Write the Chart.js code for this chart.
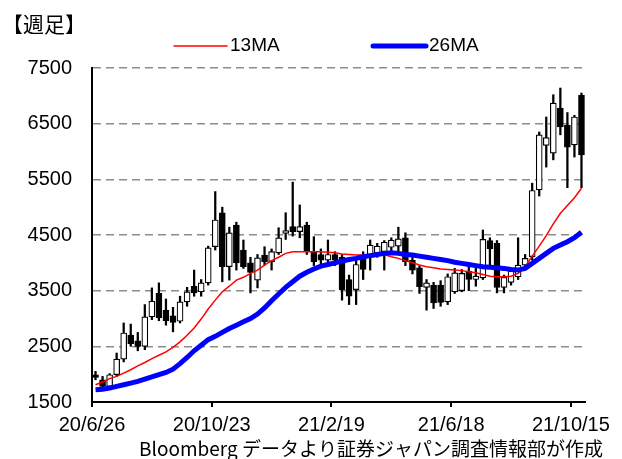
<!DOCTYPE html>
<html>
<head>
<meta charset="utf-8">
<script src="https://cdn.jsdelivr.net/npm/chart.js@4/dist/chart.umd.min.js"></script>
<style>
  body { margin: 0; background: #fff; }
  #wrap { width: 622px; height: 459px; }
</style>
</head>
<body>
<div id="wrap"><canvas id="weeklyChart" width="622" height="459"></canvas></div>
<script>
//************************************   DATA    ****************************************** */
// weekly candles, 20/6/26 .. 21/10/22
const opens  = [1990,1900,1780,1990,2270,2700,2600,2500,3030,3450,
                3150,3050,2950,3300,3580,3480,3640,4290,4900,3930,
                4680,4230,4000,3690,4140,4020,4180,4530,4650,4560,
                4680,4200,4150,4050,4150,4100,3700,3520,4090,4100,
                4180,4200,4280,4300,4450,4050,3910,3560,3600,3600,
                3300,3480,3500,3850,3700,3730,4400,4350,3560,3650,
                3750,3960,4110,5310,6110,5970,6780,6470,6120,7010];
const highs  = [2050,1960,2010,2380,2920,2900,2750,3250,3550,3640,
                3350,3200,3400,3560,3870,3700,4300,5280,5000,4640,
                4730,4410,4100,4150,4290,4250,4630,4900,5450,5040,
                4730,4470,4250,4410,4200,4150,3780,4050,4200,4410,
                4350,4400,4450,4640,4540,4150,3950,3700,3650,3680,
                3800,3900,3880,3950,3900,4590,4450,4400,3780,3900,
                4450,4150,5430,6350,6620,7020,7140,6700,6650,7050];
const lows   = [1900,1740,1760,1960,2220,2500,2420,2440,2980,2960,
                2880,2760,2920,3220,3400,3400,3600,4230,3660,3690,
                3870,3900,3460,3550,3960,3870,4150,4420,4480,4450,
                4150,3950,3950,4000,3950,3330,3250,3250,3700,3870,
                4100,3870,4180,4200,3950,3800,3450,3150,3180,3220,
                3250,3450,3480,3500,3580,3700,3950,3460,3460,3600,
                3700,3920,4050,5200,5720,5850,6300,5350,5900,5350];
const closes = [1940,1780,1990,2270,2740,2550,2500,3030,3310,3010,
                2960,2930,3300,3480,3460,3640,4270,4770,3930,4540,
                4000,3930,3830,4090,4020,4200,4450,4580,4560,4650,
                4200,4020,4050,4150,4050,3520,3400,3970,3880,4320,
                4300,4370,4410,4430,4020,3870,3570,3640,3280,3290,
                3750,3820,3810,3700,3760,4420,4250,3560,3740,3850,
                3960,4080,5300,6300,6250,6870,6440,6080,6620,5940];
const ma13   = [1810,1860,1920,1960,2020,2080,2150,2210,2280,2340,
                2400,2480,2580,2700,2830,2990,3170,3330,3480,3580,
                3690,3740,3810,3870,3960,4040,4100,4170,4200,4200,
                4200,4200,4200,4190,4180,4160,4150,4140,4140,4150,
                4160,4150,4110,4080,4040,4000,3960,3930,3910,3890,
                3880,3870,3860,3840,3820,3790,3760,3750,3750,3760,
                3810,3930,4120,4300,4490,4700,4890,5030,5170,5340];
const ma26   = [1720,1730,1750,1780,1810,1840,1870,1910,1950,1990,
                2030,2090,2190,2300,2420,2520,2620,2680,2750,2820,
                2880,2940,3000,3080,3190,3320,3440,3560,3660,3760,
                3830,3890,3940,3970,4000,4030,4060,4080,4110,4130,
                4150,4170,4180,4170,4150,4140,4120,4100,4080,4060,
                4040,4010,3990,3970,3950,3930,3920,3910,3900,3880,
                3870,3900,3990,4080,4170,4260,4320,4380,4450,4550];
const tickWeeks  = [0, 17, 34, 51, 68];
const tickLabels = ['20/6/26', '20/10/23', '21/2/19', '21/6/18', '21/10/15'];
const yTicks     = [1500, 2500, 3500, 4500, 5500, 6500, 7500];

const titleText  = '【週足】';
const sourceText = 'Bloomberg データより証券ジャパン調査情報部が作成';

//************************************   CHART    ****************************************** */
const week = i => i + 0.5;
const bodyData = opens.map((o, i) => ({x: week(i), y: [o, closes[i]]}));
const wickData = lows.map((l, i) => ({x: week(i), y: [l, highs[i]]}));
const ma13Data = ma13.map((v, i) => ({x: week(i), y: v}));
const ma26Data = ma26.map((v, i) => ({x: week(i), y: v}));

const numFont = {family: '"Liberation Sans", Arial, sans-serif', size: 20};

// title, legend and source line drawn straight on the canvas
const textPlugin = {
  id: 'chartTexts',
  afterDraw(chart) {
    const ctx = chart.ctx;
    const ds = chart.data.datasets;
    ctx.save();
    ctx.fillStyle = '#000';
    ctx.textBaseline = 'middle';
    ctx.font = '21px "Noto Sans CJK JP", sans-serif';
    ctx.fillText(titleText, 2, 24);

    const items = [{ds: ds[1], x: 174}, {ds: ds[0], x: 373}];
    items.forEach(it => {
      ctx.strokeStyle = it.ds.borderColor;
      ctx.lineWidth = it.ds.borderWidth;
      ctx.lineCap = 'round';
      ctx.beginPath();
      ctx.moveTo(it.x, 46);
      ctx.lineTo(it.x + 53, 46);
      ctx.stroke();
      ctx.font = '19px "Liberation Sans", Arial, sans-serif';
      ctx.fillText(it.ds.label, it.x + 56, 46);
    });

    ctx.font = '19px "Noto Sans CJK JP", sans-serif';
    ctx.textAlign = 'right';
    ctx.fillText(sourceText, 603, 449);
    ctx.restore();
  }
};

const chart = new Chart(document.getElementById('weeklyChart').getContext('2d'), {
  type: 'bar',
  data: {
    datasets: [
      {
        type: 'line',
        label: '26MA',
        data: ma26Data,
        borderColor: 'rgb(0, 0, 255)',
        borderWidth: 5,
        pointRadius: 0,
        order: 0
      },
      {
        type: 'line',
        label: '13MA',
        data: ma13Data,
        borderColor: 'rgb(255, 0, 0)',
        borderWidth: 1.5,
        pointRadius: 0,
        order: 1
      },
      {
        label: 'body',
        data: bodyData,
        grouped: false,
        barThickness: 6,
        borderWidth: 1.2,
        borderSkipped: false,
        borderColor: '#000',
        backgroundColor: c => (closes[c.dataIndex] >= opens[c.dataIndex] ? '#fff' : '#000'),
        order: 2
      },
      {
        label: 'wick',
        data: wickData,
        grouped: false,
        barThickness: 1.6,
        borderWidth: 0,
        backgroundColor: '#000',
        order: 3
      }
    ]
  },
  options: {
    responsive: false,
    animation: false,
    layout: {padding: {left: 0, right: 37, top: 68, bottom: 0}},
    plugins: {
      legend: {display: false},
      tooltip: {enabled: false}
    },
    scales: {
      x: {
        type: 'linear',
        offset: false,
        min: 0,
        max: 70,
        afterBuildTicks: scale => { scale.ticks = tickWeeks.map(v => ({value: v})); },
        afterFit: scale => { scale.height = 57; },
        ticks: {
          autoSkip: false,
          maxRotation: 0,
          padding: 6,
          color: '#000',
          font: numFont,
          callback: v => tickLabels[tickWeeks.indexOf(v)]
        },
        grid: {offset: false, drawOnChartArea: false, drawTicks: true, tickLength: 5, color: '#000', lineWidth: 2},
        border: {display: true, color: '#000', width: 2}
      },
      y: {
        min: 1500,
        max: 7500,
        afterBuildTicks: scale => { scale.ticks = yTicks.map(v => ({value: v})); },
        afterFit: scale => { scale.width = 92; },
        ticks: {padding: 20, color: '#000', font: numFont, callback: v => String(v)},
        grid: {
          drawTicks: false,
          color: c => (c.tick && c.tick.value === 1500 ? 'rgba(0,0,0,0)' : '#8c8c8c'),
          lineWidth: 1.5
        },
        border: {display: true, color: '#000', width: 2, dash: [8, 5]}
      }
    }
  },
  plugins: [textPlugin]
});
</script>
</body>
</html>
